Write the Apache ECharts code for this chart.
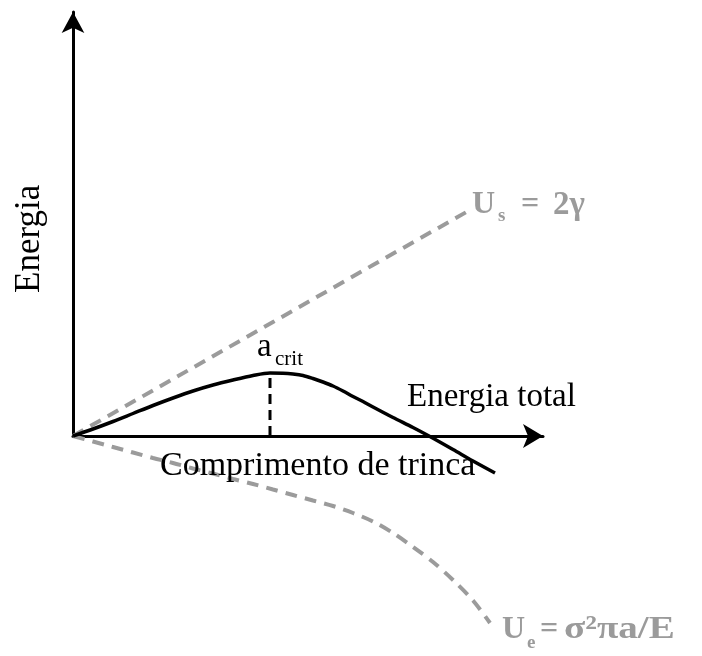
<!DOCTYPE html>
<html>
<head>
<meta charset="utf-8">
<script src="https://cdn.jsdelivr.net/npm/echarts@6/dist/echarts.min.js"></script>
<style>
  html, body { margin: 0; padding: 0; background: #ffffff; }
  #chart { width: 702px; height: 656px; }
</style>
</head>
<body>
<div id="chart"></div>
<script>
// Griffith energy balance: surface energy, elastic energy released, total energy
// x = crack length (arbitrary units), y = energy (arbitrary units)

const surfaceEnergy = [[0, 0], [10, 5.7], [20, 11.4], [30, 17.1], [39.7, 22.6]];

const elasticEnergy = [
  [0, 0], [2, -0.55], [4, -1.1], [6, -1.65], [8, -2.2], [10, -2.7], [12, -3.25],
  [14, -3.75], [16, -4.3], [18, -4.8], [20, -5.35], [22, -5.9], [24, -6.45],
  [26, -7.0], [28, -7.7], [30, -8.55], [32, -9.7], [34, -11.1], [36, -12.6],
  [38, -14.4], [40, -16.45], [41.7, -18.7]
];

const totalEnergy = [
  [0, 0], [2, 0.7], [4, 1.45], [6, 2.25], [8, 3.05], [10, 3.8], [12, 4.5],
  [14, 5.1], [16, 5.6], [18, 6.05], [19.7, 6.3], [21, 6.28], [22, 6.2],
  [23, 6.05], [24, 5.75], [25, 5.4], [26, 5.0], [27, 4.5], [28, 3.95],
  [29, 3.45], [30, 2.9], [32, 1.85], [34, 0.85], [35.6, 0], [38, -1.35],
  [40, -2.5], [42.2, -3.7]
];

const criticalLength = 19.7;
const criticalEnergy = 6.3;

const serif = '"Liberation Serif", "DejaVu Serif", serif';
const grey = '#9b9b9b';

const chart = echarts.init(document.getElementById('chart'));

function txt(x, y, text, font, fill, extra) {
  return Object.assign({ type: 'text', x: x, y: y, z: 10,
    style: { text: text, font: font, fill: fill } }, extra || {});
}

chart.setOption({
  backgroundColor: '#ffffff',
  animation: false,
  grid: { left: 73, top: 12, width: 470, height: 424, containLabel: false },
  xAxis: {
    type: 'value', min: 0, max: 47,
    axisLine: { show: true, onZero: true, symbol: ['none', 'arrow'], symbolSize: [18, 20],
      lineStyle: { color: '#000', width: 3 } },
    axisTick: { show: false }, axisLabel: { show: false }, splitLine: { show: false }
  },
  yAxis: {
    type: 'value', min: 0, max: 42.4,
    axisLine: { show: true, symbol: ['none', 'arrow'], symbolSize: [17, 21],
      lineStyle: { color: '#000', width: 3 } },
    axisTick: { show: false }, axisLabel: { show: false }, splitLine: { show: false }
  },
  series: [
    {
      name: 'Us', type: 'line', data: surfaceEnergy, showSymbol: false, clip: false,
      lineStyle: { color: grey, width: 4, type: [12, 8] }, z: 1
    },
    {
      name: 'Ue', type: 'line', data: elasticEnergy, smooth: 0.3,
      showSymbol: false, clip: false,
      lineStyle: { color: grey, width: 4, type: [12, 8] }, z: 1
    },
    {
      name: 'Energia total', type: 'line', data: totalEnergy, smooth: 0.3,
      showSymbol: false, clip: false,
      lineStyle: { color: '#000', width: 3.5 }, z: 3
    },
    {
      name: 'acrit', type: 'line',
      data: [[criticalLength, 0], [criticalLength, criticalEnergy]],
      showSymbol: false, clip: false,
      lineStyle: { color: '#000', width: 3, type: [10, 6] }, z: 2
    }
  ],
  graphic: [
    txt(12, 293, 'Energia', '35px ' + serif, '#000', { rotation: Math.PI / 2 }),
    txt(407, 381, 'Energia total', '33px ' + serif, '#000'),
    txt(160, 449, 'Comprimento de trinca', '34px ' + serif, '#000'),
    txt(257, 331, 'a', '33px ' + serif, '#000'),
    txt(275, 349, 'crit', '21px ' + serif, '#000'),
    txt(472, 189, 'U', 'bold 32px ' + serif, grey),
    txt(498, 207, 's', 'bold 19px ' + serif, grey),
    txt(521, 189, '=', 'bold 32px ' + serif, grey),
    txt(553, 189, '2γ', 'bold 33px ' + serif, grey),
    txt(502, 614, 'U', 'bold 32px ' + serif, grey),
    txt(527, 634, 'e', 'bold 19px ' + serif, grey),
    txt(540, 614, '=', 'bold 32px ' + serif, grey),
    txt(564, 614, 'σ²πa/E', 'bold 32px ' + serif, grey, { scaleX: 1.22 })
  ]
});
</script>
</body>
</html>
